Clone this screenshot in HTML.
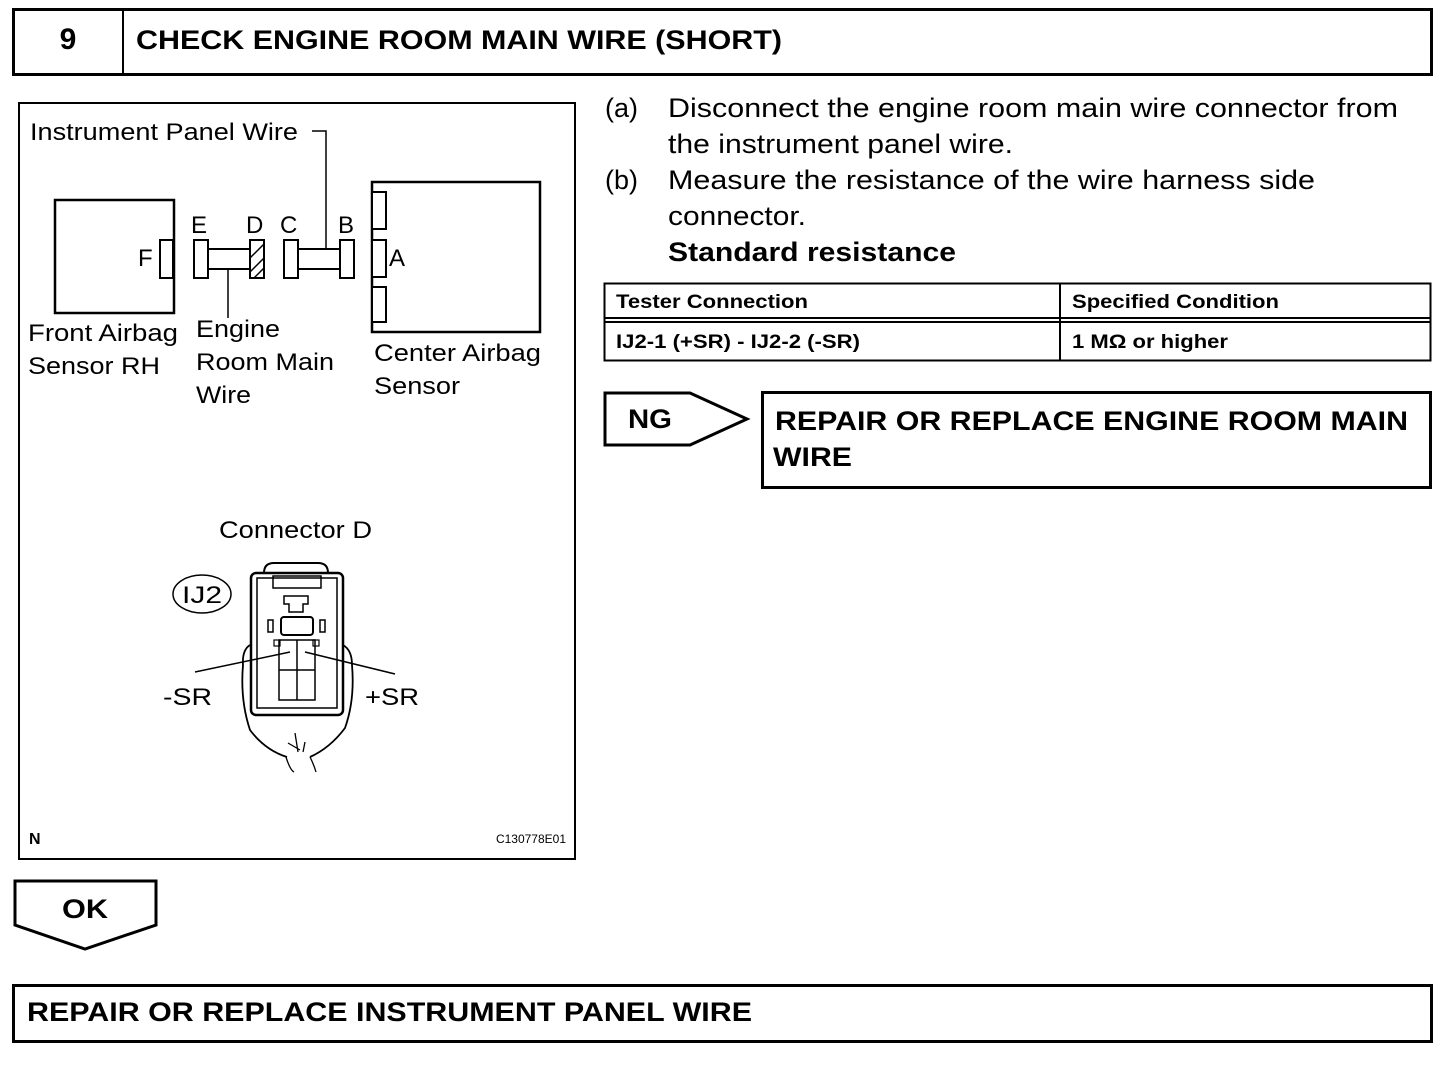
<!DOCTYPE html>
<html><head><meta charset="utf-8"><style>
html,body{margin:0;padding:0;background:#fff}
svg text{font-family:"Liberation Sans",Arial,sans-serif;fill:#000}
</style></head><body>
<svg width="1456" height="1064" viewBox="0 0 1456 1064" xmlns="http://www.w3.org/2000/svg">
<g fill="none" stroke="#000">
<rect x="13.5" y="9.5" width="1418" height="65" stroke-width="3"/>
<line x1="123" y1="9" x2="123" y2="75" stroke-width="2"/>
<rect x="19" y="103" width="556" height="756" stroke-width="2"/>
<rect x="55" y="200" width="119" height="113" stroke-width="2.5"/>
<rect x="160" y="240" width="13" height="38" fill="#fff" stroke-width="2"/>
<rect x="194" y="240" width="14" height="38" stroke-width="2"/>
<rect x="208" y="249" width="42" height="20" stroke-width="2"/>
<rect x="250" y="240" width="14" height="38" stroke-width="2"/>
<path d="M250 258 L264 244 M250 272 L264 258 M254 278 L264 268" stroke-width="1.5"/>
<line x1="228" y1="269" x2="228" y2="318" stroke-width="1.5"/>
<rect x="284" y="240" width="14" height="38" stroke-width="2"/>
<rect x="298" y="249" width="42" height="20" stroke-width="2"/>
<rect x="340" y="240" width="14" height="38" stroke-width="2"/>
<path d="M326 249 V131 H312" stroke-width="1.5"/>
<rect x="372" y="182" width="168" height="150" stroke-width="2.5"/>
<rect x="372" y="192" width="14" height="37" fill="#fff" stroke-width="2"/>
<rect x="372" y="240" width="14" height="37" fill="#fff" stroke-width="2"/>
<rect x="372" y="287" width="14" height="35" fill="#fff" stroke-width="2"/>
<ellipse cx="202" cy="594" rx="29" ry="19" stroke-width="1.5"/>
<path d="M264 573 Q264 563 274 563 H318 Q328 563 328 573" stroke-width="2"/>
<rect x="251" y="573" width="92" height="142" rx="5" stroke-width="2.5"/>
<rect x="257" y="578" width="80" height="130" stroke-width="1.5"/>
<rect x="273" y="576" width="48" height="12" stroke-width="1.5"/>
<path d="M284 596 H308 V604 H303 V612 H289 V604 H284 Z" stroke-width="1.5"/>
<rect x="281" y="617" width="32" height="18" rx="3" stroke-width="2"/>
<rect x="268" y="620" width="5" height="12" stroke-width="1.5"/>
<rect x="320" y="620" width="5" height="12" stroke-width="1.5"/>
<rect x="279" y="640" width="36" height="60" stroke-width="1.5"/>
<line x1="297" y1="640" x2="297" y2="700" stroke-width="1.5"/>
<line x1="279" y1="670" x2="315" y2="670" stroke-width="1.5"/>
<rect x="274" y="640" width="6" height="6" stroke-width="1.2"/>
<rect x="313" y="640" width="6" height="6" stroke-width="1.2"/>
<path d="M250 645 Q242 650 243 665 Q240 700 250 730 Q265 750 287 757 M343 645 Q352 650 352 665 Q355 700 345 728 Q330 748 310 757" stroke-width="1.8"/>
<path d="M286 757 Q290 770 294 772 M310 757 Q314 765 316 772 M288 743 L300 750 M305 742 L303 752 M295 733 L298 752" stroke-width="1.3"/>
<path d="M195 672 L290 652 M395 674 L305 652" stroke-width="1.5"/>
<rect x="604.5" y="283.5" width="826" height="77" stroke-width="2"/>
<line x1="1060" y1="283" x2="1060" y2="361" stroke-width="2"/>
<line x1="604" y1="318" x2="1431" y2="318" stroke-width="2"/>
<line x1="604" y1="322" x2="1431" y2="322" stroke-width="2"/>
<path d="M605 393 H690 L747 419 L690 445 H605 Z" stroke-width="3"/>
<rect x="762.5" y="392.5" width="668" height="95" stroke-width="3"/>
<path d="M15 881 H156 V925 L85 949 L15 925 Z" stroke-width="3"/>
<rect x="13.5" y="985.5" width="1418" height="56" stroke-width="3"/>
</g>
<text x="68" y="49" font-size="30" font-weight="bold" text-anchor="middle">9</text>
<text x="136" y="49" font-size="27" font-weight="bold" textLength="646" lengthAdjust="spacingAndGlyphs">CHECK ENGINE ROOM MAIN WIRE (SHORT)</text>
<g font-size="24">
<text x="30" y="140" textLength="268" lengthAdjust="spacingAndGlyphs">Instrument Panel Wire</text>
<text x="138" y="266">F</text>
<text x="191" y="233">E</text>
<text x="246" y="233">D</text>
<text x="280" y="233">C</text>
<text x="338" y="233">B</text>
<text x="389" y="266">A</text>
<text x="28" y="341" textLength="150" lengthAdjust="spacingAndGlyphs">Front Airbag</text>
<text x="28" y="374" textLength="132" lengthAdjust="spacingAndGlyphs">Sensor RH</text>
<text x="196" y="337" textLength="84" lengthAdjust="spacingAndGlyphs">Engine</text>
<text x="196" y="370" textLength="138" lengthAdjust="spacingAndGlyphs">Room Main</text>
<text x="196" y="403" textLength="55" lengthAdjust="spacingAndGlyphs">Wire</text>
<text x="374" y="361" textLength="167" lengthAdjust="spacingAndGlyphs">Center Airbag</text>
<text x="374" y="394" textLength="86" lengthAdjust="spacingAndGlyphs">Sensor</text>
<text x="219" y="538" textLength="153" lengthAdjust="spacingAndGlyphs">Connector D</text>
<text x="182" y="603" textLength="40" lengthAdjust="spacingAndGlyphs">IJ2</text>
<text x="163" y="705" textLength="49" lengthAdjust="spacingAndGlyphs">-SR</text>
<text x="365" y="705" textLength="54" lengthAdjust="spacingAndGlyphs">+SR</text>
</g>
<text x="29" y="844" font-size="16" font-weight="bold">N</text>
<text x="566" y="843" font-size="12" text-anchor="end">C130778E01</text>
<g font-size="27">
<text x="605" y="117">(a)</text>
<text x="668" y="117" textLength="730" lengthAdjust="spacingAndGlyphs">Disconnect the engine room main wire connector from</text>
<text x="668" y="153" textLength="345" lengthAdjust="spacingAndGlyphs">the instrument panel wire.</text>
<text x="605" y="189">(b)</text>
<text x="668" y="189" textLength="647" lengthAdjust="spacingAndGlyphs">Measure the resistance of the wire harness side</text>
<text x="668" y="225" textLength="138" lengthAdjust="spacingAndGlyphs">connector.</text>
<text x="668" y="261" font-weight="bold" textLength="288" lengthAdjust="spacingAndGlyphs">Standard resistance</text>
</g>
<g font-size="19" font-weight="bold">
<text x="616" y="308" textLength="192" lengthAdjust="spacingAndGlyphs">Tester Connection</text>
<text x="1072" y="308" textLength="207" lengthAdjust="spacingAndGlyphs">Specified Condition</text>
<text x="616" y="348" textLength="244" lengthAdjust="spacingAndGlyphs">IJ2-1 (+SR) - IJ2-2 (-SR)</text>
<text x="1072" y="348" textLength="156" lengthAdjust="spacingAndGlyphs">1 MΩ or higher</text>
</g>
<text x="628" y="428" font-size="27" font-weight="bold" textLength="44" lengthAdjust="spacingAndGlyphs">NG</text>
<text x="775" y="430" font-size="27" font-weight="bold" textLength="633" lengthAdjust="spacingAndGlyphs">REPAIR OR REPLACE ENGINE ROOM MAIN</text>
<text x="773" y="466" font-size="27" font-weight="bold" textLength="79" lengthAdjust="spacingAndGlyphs">WIRE</text>
<text x="62" y="918" font-size="27" font-weight="bold" textLength="46" lengthAdjust="spacingAndGlyphs">OK</text>
<text x="27" y="1021" font-size="27" font-weight="bold" textLength="725" lengthAdjust="spacingAndGlyphs">REPAIR OR REPLACE INSTRUMENT PANEL WIRE</text>
</svg>
</body></html>
